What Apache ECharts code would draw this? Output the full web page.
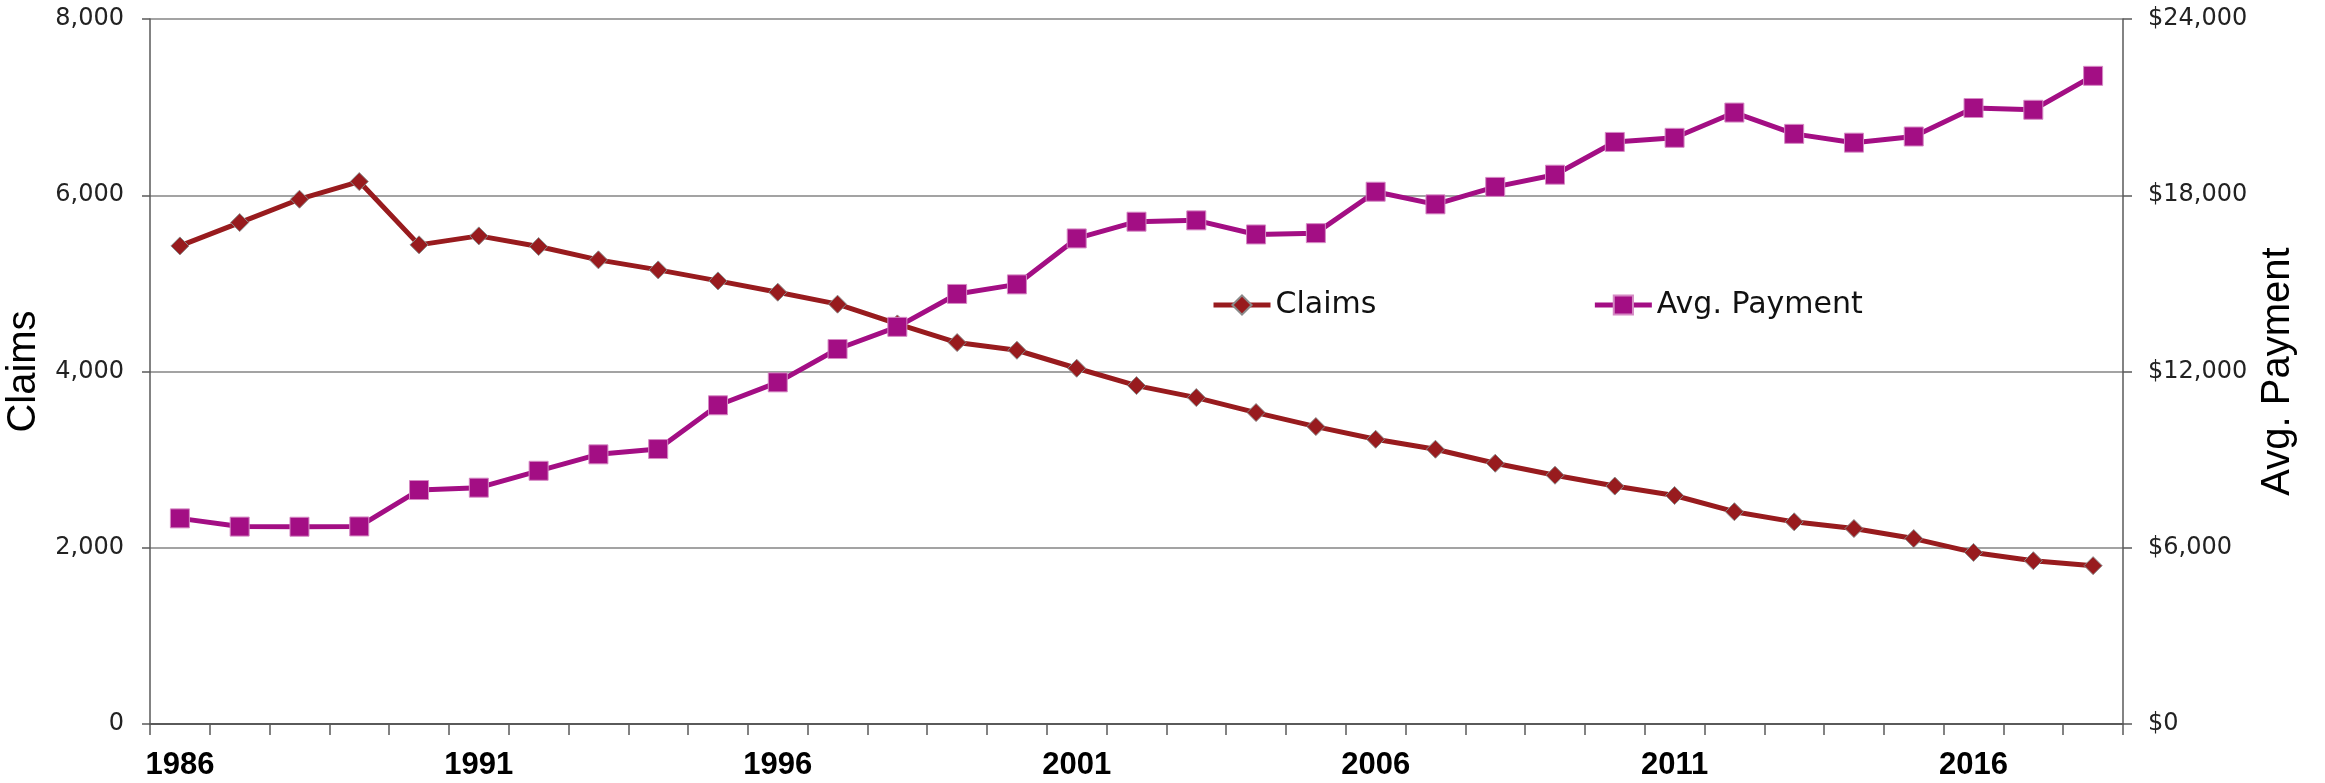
<!DOCTYPE html>
<html>
<head>
<meta charset="utf-8">
<script src="https://cdn.jsdelivr.net/npm/echarts@6/dist/echarts.min.js"></script>
<style>
  html, body { margin: 0; padding: 0; background: #ffffff; }
  #chart { width: 2325px; height: 783px; }
</style>
</head>
<body>
<div id="chart"></div>
<script>
// Claim counts and average payment per claim, 1986–2018
const years = ['1986','1987','1988','1989','1990','1991','1992','1993','1994','1995','1996',
               '1997','1998','1999','2000','2001','2002','2003','2004','2005','2006','2007',
               '2008','2009','2010','2011','2012','2013','2014','2015','2016','2017','2018'];

const claims = [5425, 5690, 5955, 6155, 5437, 5539, 5418, 5267, 5153, 5028, 4900,
                4764, 4540, 4328, 4241, 4037, 3840, 3704, 3534, 3375, 3231, 3118,
                2959, 2823, 2700, 2593, 2409, 2294, 2218, 2104, 1947, 1853, 1797];

const avgPayment = [7000, 6720, 6715, 6725, 7965, 8045, 8620, 9180, 9360, 10850, 11630,
                    12765, 13520, 14640, 14965, 16530, 17100, 17145, 16665, 16710, 18120, 17690,
                    18285, 18700, 19815, 19955, 20815, 20090, 19790, 20000, 20970, 20910, 22065];

const claimTicks = [0, 2000, 4000, 6000, 8000];
const paymentTicks = [0, 6000, 12000, 18000, 24000];

const fmt = v => v.toLocaleString('en-US');

const chart = echarts.init(document.getElementById('chart'), null, { renderer: 'canvas' });

const axisGrey = '#5a5a5a';
const tickFont = 'DejaVu Sans';
const titleFont = 'Liberation Sans';

chart.setOption({
  animation: false,
  backgroundColor: '#ffffff',
  grid: { left: 150, right: 202, top: 19, bottom: 59, containLabel: false, outerBoundsMode: 'none' },
  legend: {
    left: 1211,
    top: 290,
    padding: 0,
    itemWidth: 57,
    itemHeight: 24,
    itemGap: 216,
    lineStyle: { width: 5 },
    textStyle: { fontFamily: tickFont, fontSize: 30, color: '#111111' },
    data: ['Claims', 'Avg. Payment']
  },
  xAxis: {
    type: 'category',
    data: years,
    boundaryGap: true,
    axisLine: { lineStyle: { color: axisGrey, width: 2 } },
    axisTick: { show: true, interval: 0, length: 11, inside: false, lineStyle: { color: axisGrey, width: 1.5 } },
    axisLabel: {
      interval: 4,
      margin: 26,
      fontFamily: titleFont,
      fontWeight: 'bold',
      fontSize: 31,
      color: '#000000'
    },
    splitLine: { show: false }
  },
  yAxis: [
    {
      type: 'value',
      position: 'left',
      min: claimTicks[0],
      max: claimTicks[claimTicks.length - 1],
      interval: claimTicks[1] - claimTicks[0],
      name: 'Claims',
      nameLocation: 'middle',
      nameRotate: 90,
      nameGap: 93,
      nameTextStyle: { fontFamily: titleFont, fontSize: 40, color: '#000000' },
      axisLine: { show: true, lineStyle: { color: axisGrey, width: 1.5 } },
      axisTick: { show: true, length: 8, lineStyle: { color: axisGrey, width: 1.5 } },
      axisLabel: {
        margin: 26,
        fontFamily: tickFont,
        fontSize: 24,
        color: '#222222',
        formatter: v => fmt(v)
      },
      splitLine: { show: true, lineStyle: { color: '#858585', width: 1.5 } }
    },
    {
      type: 'value',
      position: 'right',
      min: paymentTicks[0],
      max: paymentTicks[paymentTicks.length - 1],
      interval: paymentTicks[1] - paymentTicks[0],
      name: 'Avg. Payment',
      nameLocation: 'middle',
      nameRotate: 90,
      nameGap: 133,
      nameTextStyle: { fontFamily: titleFont, fontSize: 40, color: '#000000' },
      axisLine: { show: true, lineStyle: { color: axisGrey, width: 1.5 } },
      axisTick: { show: true, length: 9, lineStyle: { color: axisGrey, width: 1.5 } },
      axisLabel: {
        margin: 25,
        fontFamily: tickFont,
        fontSize: 24,
        color: '#222222',
        formatter: v => '$' + fmt(v)
      },
      splitLine: { show: false }
    }
  ],
  series: [
    {
      name: 'Claims',
      type: 'line',
      yAxisIndex: 0,
      data: claims,
      symbol: 'diamond',
      symbolSize: 18,
      showAllSymbol: true,
      lineStyle: { color: '#981B1E', width: 5 },
      itemStyle: { color: '#981B1E', borderColor: '#8a8a8a', borderWidth: 1 },
      z: 3
    },
    {
      name: 'Avg. Payment',
      type: 'line',
      yAxisIndex: 1,
      data: avgPayment,
      symbol: 'rect',
      symbolSize: 19,
      showAllSymbol: true,
      lineStyle: { color: '#A30E84', width: 5 },
      itemStyle: { color: '#A30E84', borderColor: '#D58AC4', borderWidth: 1 },
      z: 4
    }
  ]
});
</script>
</body>
</html>
